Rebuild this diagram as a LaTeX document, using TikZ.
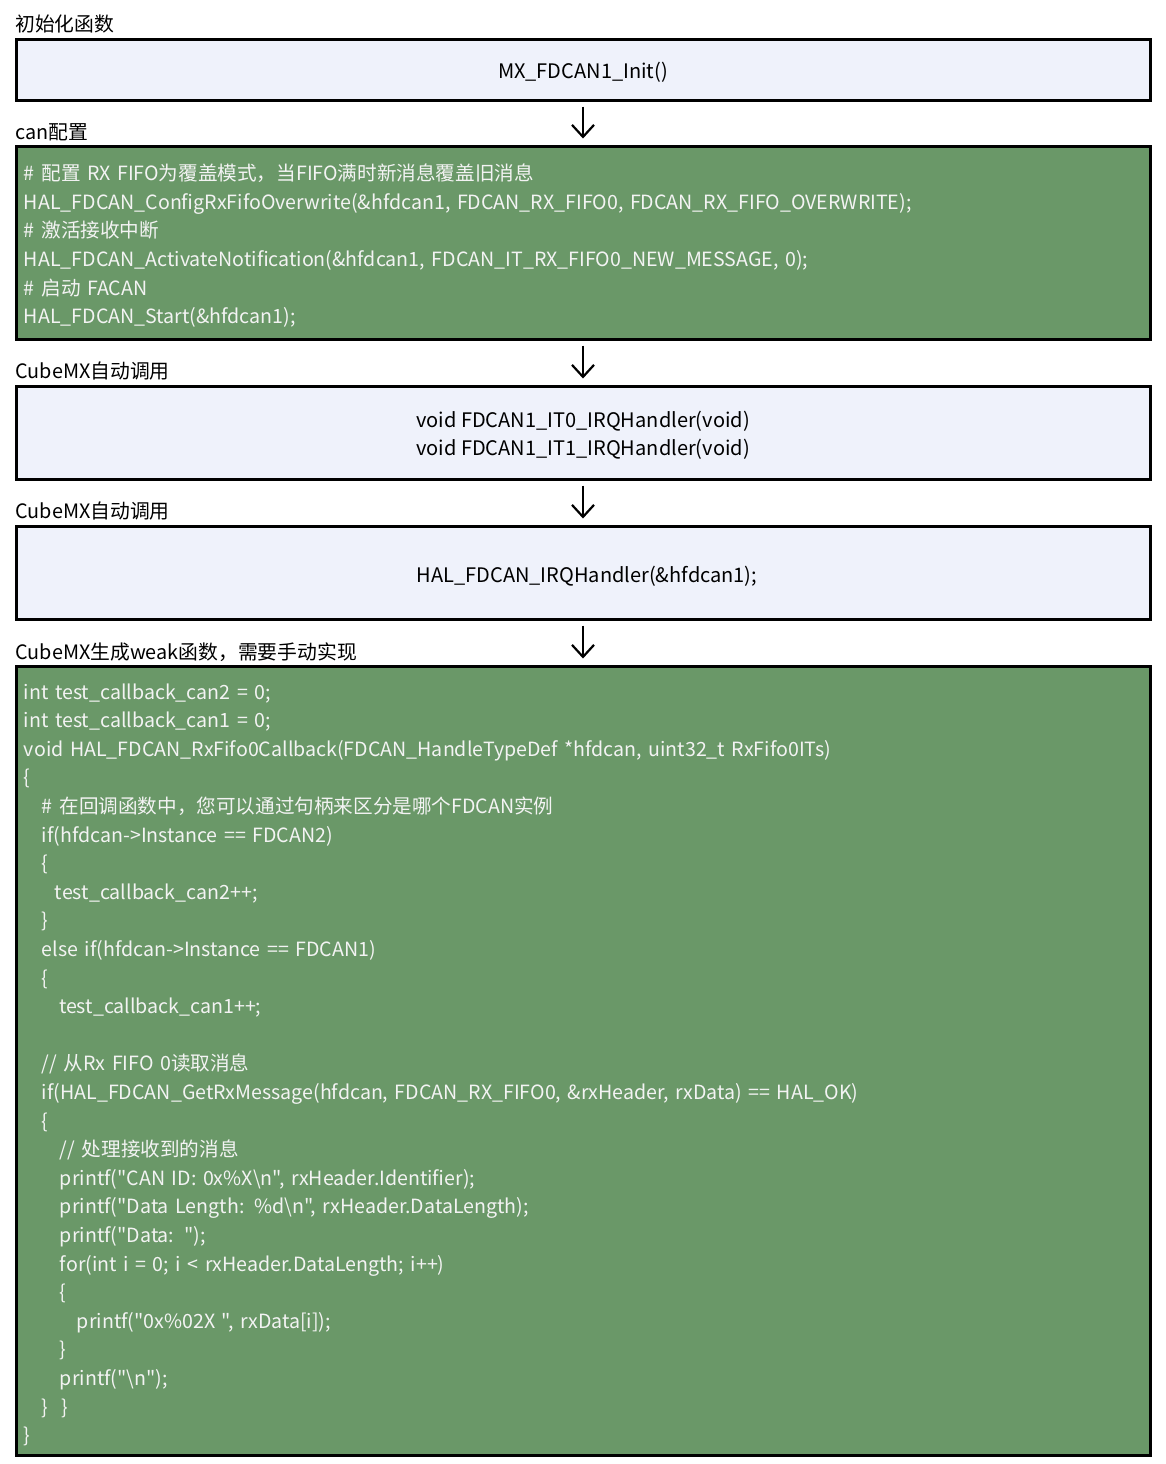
\documentclass[tikz,border=0pt]{standalone}
\usepackage{fontspec}
\setmainfont{Noto Sans CJK SC}
\newfontfamily\codefont{Noto Sans CJK SC}
\usetikzlibrary{arrows.meta,positioning}
\definecolor{boxblue}{RGB}{239,242,251}
\definecolor{codegreen}{RGB}{106,152,104}
\definecolor{codefg}{RGB}{243,243,243}
\tikzset{
    every node/.style={
        font=\fontsize{9.9}{14.3}\selectfont
    },
    stage/.style={
        shape=rectangle,
        draw=black,
        line width=1.5pt,
        minimum width=567pt
    },
    plain/.style={
        stage,
        fill=boxblue
    },
    code/.style={
        stage,
        fill=codegreen
    },
    plaintext/.style={
        font=\fontsize{10}{14.3}\selectfont,
        align=center
    },
    listing/.style={
        text=codefg,
        inner xsep=0pt,
        text width=559pt,
        font=\codefont\fontsize{9.8}{14.3}\selectfont,
        align=left
    },
    title/.style={
        anchor=west,
        inner sep=0pt
    },
    flow/.style={
        -{Straight Barb[length=6pt,width=11pt]},
        line width=1.1pt,
        shorten <=2.5pt,
        shorten >=3pt
    }
}
\newcommand{\ind}[1]{\hspace*{#1pt}}

\begin{document}
\begin{tikzpicture}[x=0.5pt, y=-0.5pt]
    \useasboundingbox (0,0) rectangle (1166,1464);

    \node (tinit) at (15,24) [title] {初始化函数};
    \node (init) at (583,69.5) [plain, minimum height=30.5pt] {};
    \node (inittext) at ([yshift=-1.6pt]init.center) [plaintext] {MX\_FDCAN1\_Init()};

    \node (tcfg) at (15,132) [title] {can配置};
    \node (cfg) at (583,242.5) [code, minimum height=96.5pt] {};
    \node (cfgtext) at ([yshift=-1.6pt]cfg.center) [listing] {%
        \# 配置 RX FIFO为覆盖模式，当FIFO满时新消息覆盖旧消息\\
        HAL\_FDCAN\_ConfigRxFifoOverwrite(\&hfdcan1, FDCAN\_RX\_FIFO0, FDCAN\_RX\_FIFO\_OVERWRITE);\\
        \# 激活接收中断\\
        HAL\_FDCAN\_ActivateNotification(\&hfdcan1, FDCAN\_IT\_RX\_FIFO0\_NEW\_MESSAGE, 0);\\
        \# 启动 FACAN\\
        HAL\_FDCAN\_Start(\&hfdcan1);};

    \node (tirq) at (15,371) [title] {CubeMX自动调用};
    \node (irq) at (583,432.5) [plain, minimum height=46.5pt] {};
    \node (irqtext) at ([yshift=-1.4pt]irq.center) [plaintext] {%
        void FDCAN1\_IT0\_IRQHandler(void)\\
        void FDCAN1\_IT1\_IRQHandler(void)};

    \node (thal) at (15,511) [title] {CubeMX自动调用};
    \node (hal) at (583,572.5) [plain, minimum height=46.5pt] {};
    \node (haltext) at ([xshift=2pt, yshift=-2pt]hal.center) [plaintext] {HAL\_FDCAN\_IRQHandler(\&hfdcan1);};

    \node (tcb) at (15,652) [title] {CubeMX生成weak函数，需要手动实现};
    \node (cb) at (583,1060.5) [code, minimum height=394.5pt] {};
    \node (cbtext) at ([yshift=-2.1pt]cb.center) [listing] {%
        int test\_callback\_can2 = 0;\\
        int test\_callback\_can1 = 0;\\
        void HAL\_FDCAN\_RxFifo0Callback(FDCAN\_HandleTypeDef *hfdcan, uint32\_t RxFifo0ITs)\\
        \{\\
        \ind{9}\# 在回调函数中，您可以通过句柄来区分是哪个FDCAN实例\\
        \ind{9}if(hfdcan->Instance == FDCAN2)\\
        \ind{9}\{\\
        \ind{15.5}test\_callback\_can2++;\\
        \ind{9}\}\\
        \ind{9}else if(hfdcan->Instance == FDCAN1)\\
        \ind{9}\{\\
        \ind{17.5}test\_callback\_can1++;\\
        ~\\
        \ind{9}// 从Rx FIFO 0读取消息\\
        \ind{9}if(HAL\_FDCAN\_GetRxMessage(hfdcan, FDCAN\_RX\_FIFO0, \&rxHeader, rxData) == HAL\_OK)\\
        \ind{9}\{\\
        \ind{18}// 处理接收到的消息\\
        \ind{18}printf("CAN ID: 0x\%X\textbackslash n", rxHeader.Identifier);\\
        \ind{18}printf("Data Length: \%d\textbackslash n", rxHeader.DataLength);\\
        \ind{18}printf("Data: ");\\
        \ind{18}for(int i = 0; i < rxHeader.DataLength; i++)\\
        \ind{18}\{\\
        \ind{26.5}printf("0x\%02X ", rxData[i]);\\
        \ind{18}\}\\
        \ind{18}printf("\textbackslash n");\\
        \ind{9}\}\ \ \}\\
        \}};

    \draw [flow] (init) -- (cfg);
    \draw [flow] (cfg) -- (irq);
    \draw [flow] (irq) -- (hal);
    \draw [flow] (hal) -- (cb);
\end{tikzpicture}
\end{document}
